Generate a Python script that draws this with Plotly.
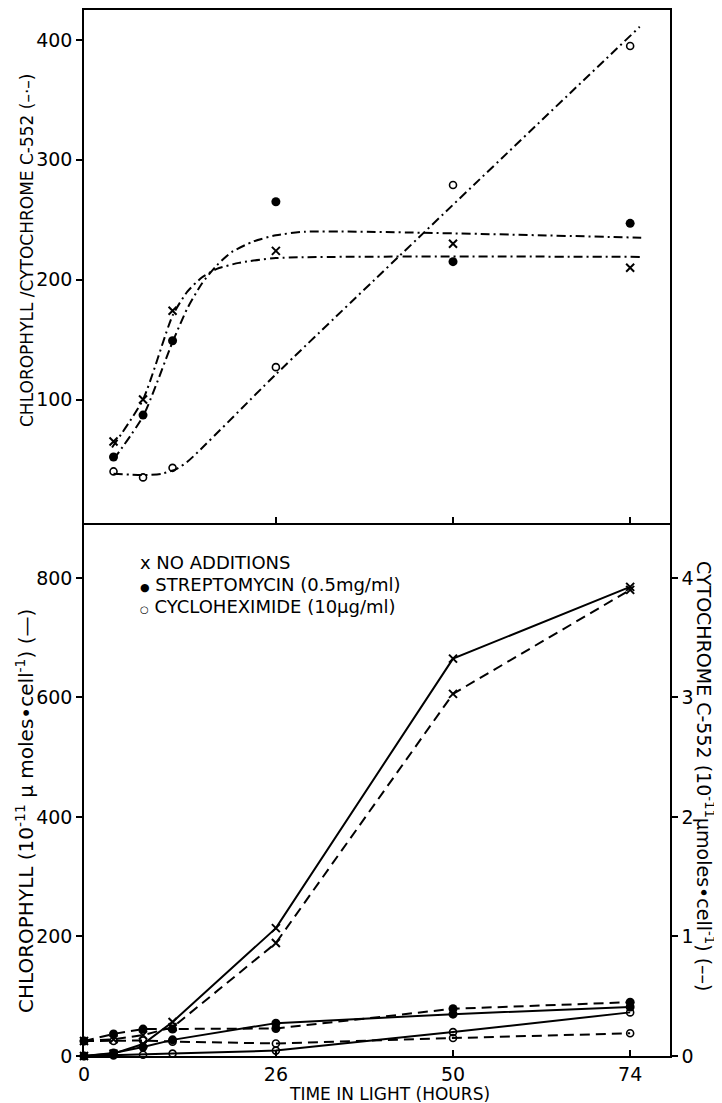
import plotly.graph_objects as go

# ---------------- data ----------------
hours = [0, 4, 8, 12, 26, 50, 74]
ratio_hours = [4, 8, 12, 26, 50, 74]
hour_ticks = [0, 26, 50, 74]

# top panel: chlorophyll / cytochrome c-552 ratio (points)
ratio_none = [65, 100, 174, 224, 230, 210]
ratio_strep = [52, 87, 149, 265, 215, 247]
ratio_cyclo = [40, 35, 43, 127, 279, 395]

# top panel: hand-drawn fit curves
fit_none_t = [3.8, 8, 12, 14, 16, 18, 21, 26, 75.5]
fit_none_v = [60, 100, 170, 190, 202, 209, 214, 218, 219]
fit_strep_t = [4, 8, 12, 14, 16, 18, 20, 23, 26, 30, 75.5]
fit_strep_v = [50, 86, 148, 176, 197, 212, 223, 232, 237, 240, 235]
fit_cyclo_t = [4, 8, 10.5, 12.5, 14, 26, 75.3]
fit_cyclo_v = [38, 37, 38, 42, 48, 121, 411]

# bottom panel: chlorophyll (left axis, solid)
chl_none = [0, 4, 20, 57, 214, 665, 785]
chl_strep = [0, 5, 15, 27, 55, 70, 82]
chl_cyclo = [0, 1, 2, 4, 9, 40, 73]

# bottom panel: cytochrome c-552 (right axis, dashed)
cyt_none = [0.125, 0.14, 0.175, 0.24, 0.945, 3.03, 3.9]
cyt_strep = [0.125, 0.185, 0.225, 0.225, 0.23, 0.395, 0.45]
cyt_cyclo = [0.125, 0.125, 0.13, 0.12, 0.105, 0.15, 0.19]

top_ticks = [100, 200, 300, 400]
chl_ticks = [0, 200, 400, 600, 800]
cyt_ticks = [0, 1, 2, 3, 4]

legend_labels = ["NO ADDITIONS", "STREPTOMYCIN (0.5mg/ml)", "CYCLOHEXIMIDE (10\u03bcg/ml)"]
legend_glyphs = ["x", "<span style='font-size:11px'>\u25cf</span>",
                 "<span style='font-size:10px'>\u25cb</span>"]

# ---------------- styles ----------------
K = "black"
FONT = "DejaVu Sans"
mk_none = dict(symbol="x-thin-open", size=8, color=K, line=dict(width=2, color=K))
mk_strep = dict(symbol="circle", size=9, color=K, line=dict(width=0, color=K))
mk_cyclo = dict(symbol="circle-open", size=7, color=K, line=dict(width=1.6, color=K))
dashdot = "9px,4px,2px,4px"

fig = go.Figure()

# top panel fit curves
for t, v in [(fit_none_t, fit_none_v), (fit_strep_t, fit_strep_v), (fit_cyclo_t, fit_cyclo_v)]:
    fig.add_trace(go.Scatter(x=t, y=v, mode="lines", xaxis="x2", yaxis="y2",
                             line=dict(color=K, width=2, dash=dashdot, shape="spline", smoothing=0.6),
                             showlegend=False, hoverinfo="skip"))
# top panel points
for v, mk in [(ratio_none, mk_none), (ratio_strep, mk_strep), (ratio_cyclo, mk_cyclo)]:
    fig.add_trace(go.Scatter(x=ratio_hours, y=v, mode="markers", xaxis="x2", yaxis="y2",
                             marker=mk, showlegend=False, cliponaxis=False))

# bottom panel chlorophyll (solid)
for v, mk in [(chl_none, mk_none), (chl_strep, mk_strep), (chl_cyclo, mk_cyclo)]:
    fig.add_trace(go.Scatter(x=hours, y=v, mode="lines+markers", xaxis="x", yaxis="y",
                             line=dict(color=K, width=2), marker=mk,
                             showlegend=False, cliponaxis=False))
# bottom panel cytochrome (dashed)
for v, mk in [(cyt_none, mk_none), (cyt_strep, mk_strep), (cyt_cyclo, mk_cyclo)]:
    fig.add_trace(go.Scatter(x=hours, y=v, mode="lines+markers", xaxis="x", yaxis="y3",
                             line=dict(color=K, width=2, dash="10px,6px"), marker=mk,
                             showlegend=False, cliponaxis=False))

SPLIT = 0.5096
ax_common = dict(showline=True, linewidth=1.5, linecolor=K, showgrid=False, zeroline=False,
                 tickcolor=K, tickwidth=1.5, ticklen=6, automargin=False,
                 tickfont=dict(family=FONT, size=19, color=K))

# the page adds an 8px body margin, so the figure is 8px smaller and shifted
fig.update_layout(
    width=714, height=1095,
    margin=dict(l=76, r=52, t=2, b=47),
    paper_bgcolor="white", plot_bgcolor="white",
    showlegend=False,
    xaxis=dict(domain=[0, 1], range=[0, 79.4], anchor="y", tickvals=hour_ticks,
               ticks="inside", **ax_common),
    yaxis=dict(domain=[0, SPLIT], range=[0, 892], anchor="x", tickvals=chl_ticks,
               ticks="outside", **ax_common),
    yaxis3=dict(range=[0, 4.46], overlaying="y", side="right", anchor="x",
                tickvals=cyt_ticks, ticks="outside", **ax_common),
    xaxis2=dict(domain=[0, 1], range=[0, 79.4], anchor="y2", tickvals=hour_ticks,
                ticks="inside", showticklabels=False, mirror=True, **ax_common),
    yaxis2=dict(domain=[SPLIT, 1], range=[-3, 425], anchor="x2", tickvals=top_ticks,
                ticks="outside", mirror=True, **ax_common),
)

PW, PH = 586.0, 1046.0   # plot area size in px


def px(xp):   # page x -> paper
    return (xp - 84) / PW


def py(yp):   # page y -> paper
    return (1056 - yp) / PH


annotations = [
    dict(text="CHLOROPHYLL /CYTOCHROME C-552 (\u2013\u00b7\u2013)", x=px(27), y=py(250),
         xref="paper", yref="paper", textangle=-90, showarrow=False,
         font=dict(family=FONT, size=17, color=K), xanchor="center", yanchor="middle"),
    dict(text="CHLOROPHYLL (10<sup>-11</sup> \u03bc moles\u2022cell<sup>-1</sup>) (\u2014)",
         x=px(25), y=py(811), xref="paper", yref="paper", textangle=-90, showarrow=False,
         font=dict(family=FONT, size=20, color=K), xanchor="center", yanchor="middle"),
    dict(text="CYTOCHROME C-552 (10<sup>-11</sup>\u03bcmoles\u2022cell<sup>-1</sup>) (\u2013\u2013)",
         x=px(705), y=py(777), xref="paper", yref="paper", textangle=90, showarrow=False,
         font=dict(family=FONT, size=19, color=K), xanchor="center", yanchor="middle"),
    dict(text="TIME IN LIGHT (HOURS)", x=px(389), y=py(1094), xref="paper", yref="paper",
         showarrow=False, font=dict(family=FONT, size=17, color=K),
         xanchor="center", yanchor="middle"),
]
for i, (g, lab) in enumerate(zip(legend_glyphs, legend_labels)):
    annotations.append(dict(text=g + " " + lab, x=px(138), y=py(562 + 22 * i),
                            xref="paper", yref="paper", showarrow=False,
                            font=dict(family=FONT, size=18, color=K),
                            xanchor="left", yanchor="middle"))
fig.update_layout(annotations=annotations)

fig.write_html("out.html")
